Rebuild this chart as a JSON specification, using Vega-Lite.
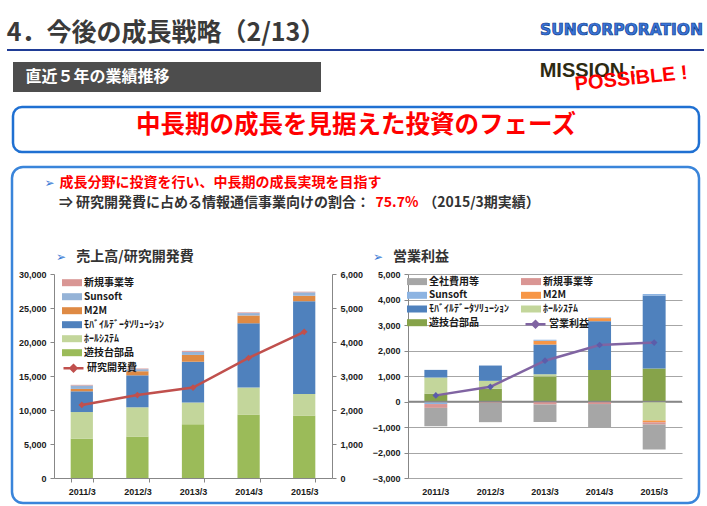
{
  "$schema": "https://vega.github.io/schema/vega-lite/v6.json",
  "padding": 0,
  "background": "#ffffff",
  "spacing": 0,
  "bounds": "flush",
  "data": {"values": [{}]},
  "config": {
    "view": {"stroke": null},
    "font": "Noto Sans CJK JP",
    "axis": {"labelFont": "Liberation Sans", "labelFontWeight": "bold", "labelFontSize": 9, "labelColor": "#1a1a1a", "domainColor": "#878787", "tickColor": "#878787", "tickSize": 4, "labelPadding": 4, "grid": false, "labelOverlap": false},
    "legend": {"labelFont": "Noto Sans CJK JP", "labelFontWeight": "bold", "labelFontSize": 10, "labelColor": "#1a1a1a", "padding": 0, "labelOffset": 7, "symbolSize": 100, "orient": "none"}
  },
  "datasets": {
    "sales": [
      {"year": "2011/3", "seg": "遊技台部品", "value": 5800, "ord": 1},
      {"year": "2011/3", "seg": "ﾎｰﾙｼｽﾃﾑ", "value": 3900, "ord": 2},
      {"year": "2011/3", "seg": "ﾓﾊﾞｲﾙﾃﾞｰﾀｿﾘｭｰｼｮﾝ", "value": 3050, "ord": 3},
      {"year": "2011/3", "seg": "M2M", "value": 350, "ord": 4},
      {"year": "2011/3", "seg": "Sunsoft", "value": 500, "ord": 5},
      {"year": "2011/3", "seg": "新規事業等", "value": 100, "ord": 6},
      {"year": "2012/3", "seg": "遊技台部品", "value": 6100, "ord": 1},
      {"year": "2012/3", "seg": "ﾎｰﾙｼｽﾃﾑ", "value": 4300, "ord": 2},
      {"year": "2012/3", "seg": "ﾓﾊﾞｲﾙﾃﾞｰﾀｿﾘｭｰｼｮﾝ", "value": 4700, "ord": 3},
      {"year": "2012/3", "seg": "M2M", "value": 600, "ord": 4},
      {"year": "2012/3", "seg": "Sunsoft", "value": 300, "ord": 5},
      {"year": "2012/3", "seg": "新規事業等", "value": 100, "ord": 6},
      {"year": "2013/3", "seg": "遊技台部品", "value": 7900, "ord": 1},
      {"year": "2013/3", "seg": "ﾎｰﾙｼｽﾃﾑ", "value": 3200, "ord": 2},
      {"year": "2013/3", "seg": "ﾓﾊﾞｲﾙﾃﾞｰﾀｿﾘｭｰｼｮﾝ", "value": 6000, "ord": 3},
      {"year": "2013/3", "seg": "M2M", "value": 1000, "ord": 4},
      {"year": "2013/3", "seg": "Sunsoft", "value": 450, "ord": 5},
      {"year": "2013/3", "seg": "新規事業等", "value": 150, "ord": 6},
      {"year": "2014/3", "seg": "遊技台部品", "value": 9350, "ord": 1},
      {"year": "2014/3", "seg": "ﾎｰﾙｼｽﾃﾑ", "value": 3950, "ord": 2},
      {"year": "2014/3", "seg": "ﾓﾊﾞｲﾙﾃﾞｰﾀｿﾘｭｰｼｮﾝ", "value": 9450, "ord": 3},
      {"year": "2014/3", "seg": "M2M", "value": 1150, "ord": 4},
      {"year": "2014/3", "seg": "Sunsoft", "value": 350, "ord": 5},
      {"year": "2014/3", "seg": "新規事業等", "value": 100, "ord": 6},
      {"year": "2015/3", "seg": "遊技台部品", "value": 9200, "ord": 1},
      {"year": "2015/3", "seg": "ﾎｰﾙｼｽﾃﾑ", "value": 3150, "ord": 2},
      {"year": "2015/3", "seg": "ﾓﾊﾞｲﾙﾃﾞｰﾀｿﾘｭｰｼｮﾝ", "value": 13650, "ord": 3},
      {"year": "2015/3", "seg": "M2M", "value": 800, "ord": 4},
      {"year": "2015/3", "seg": "Sunsoft", "value": 500, "ord": 5},
      {"year": "2015/3", "seg": "新規事業等", "value": 100, "ord": 6}
    ],
    "rd": [
      {"year": "2011/3", "value": 2150},
      {"year": "2012/3", "value": 2440},
      {"year": "2013/3", "value": 2660},
      {"year": "2014/3", "value": 3530},
      {"year": "2015/3", "value": 4300}
    ],
    "op": [
      {"year": "2011/3", "seg": "遊技台部品", "value": 310, "ord": 1},
      {"year": "2011/3", "seg": "ﾎｰﾙｼｽﾃﾑ", "value": 630, "ord": 2},
      {"year": "2011/3", "seg": "ﾓﾊﾞｲﾙﾃﾞｰﾀｿﾘｭｰｼｮﾝ", "value": 300, "ord": 3},
      {"year": "2011/3", "seg": "M2M", "value": -30, "ord": 4},
      {"year": "2011/3", "seg": "Sunsoft", "value": -70, "ord": 5},
      {"year": "2011/3", "seg": "新規事業等", "value": -150, "ord": 6},
      {"year": "2011/3", "seg": "全社費用等", "value": -720, "ord": 7},
      {"year": "2012/3", "seg": "遊技台部品", "value": 500, "ord": 1},
      {"year": "2012/3", "seg": "ﾎｰﾙｼｽﾃﾑ", "value": 310, "ord": 2},
      {"year": "2012/3", "seg": "ﾓﾊﾞｲﾙﾃﾞｰﾀｿﾘｭｰｼｮﾝ", "value": 600, "ord": 3},
      {"year": "2012/3", "seg": "新規事業等", "value": -50, "ord": 6},
      {"year": "2012/3", "seg": "全社費用等", "value": -760, "ord": 7},
      {"year": "2013/3", "seg": "遊技台部品", "value": 980, "ord": 1},
      {"year": "2013/3", "seg": "ﾎｰﾙｼｽﾃﾑ", "value": 90, "ord": 2},
      {"year": "2013/3", "seg": "ﾓﾊﾞｲﾙﾃﾞｰﾀｿﾘｭｰｼｮﾝ", "value": 1165, "ord": 3},
      {"year": "2013/3", "seg": "M2M", "value": 145, "ord": 4},
      {"year": "2013/3", "seg": "Sunsoft", "value": 40, "ord": 5},
      {"year": "2013/3", "seg": "新規事業等", "value": -120, "ord": 6},
      {"year": "2013/3", "seg": "全社費用等", "value": -680, "ord": 7},
      {"year": "2014/3", "seg": "遊技台部品", "value": 1240, "ord": 1},
      {"year": "2014/3", "seg": "ﾓﾊﾞｲﾙﾃﾞｰﾀｿﾘｭｰｼｮﾝ", "value": 1910, "ord": 3},
      {"year": "2014/3", "seg": "M2M", "value": 120, "ord": 4},
      {"year": "2014/3", "seg": "Sunsoft", "value": 25, "ord": 5},
      {"year": "2014/3", "seg": "新規事業等", "value": -100, "ord": 6},
      {"year": "2014/3", "seg": "全社費用等", "value": -930, "ord": 7},
      {"year": "2015/3", "seg": "遊技台部品", "value": 1290, "ord": 1},
      {"year": "2015/3", "seg": "ﾎｰﾙｼｽﾃﾑ", "value": -745, "ord": 2},
      {"year": "2015/3", "seg": "ﾓﾊﾞｲﾙﾃﾞｰﾀｿﾘｭｰｼｮﾝ", "value": 2865, "ord": 3},
      {"year": "2015/3", "seg": "M2M", "value": -65, "ord": 4},
      {"year": "2015/3", "seg": "Sunsoft", "value": 65, "ord": 5},
      {"year": "2015/3", "seg": "新規事業等", "value": -90, "ord": 6},
      {"year": "2015/3", "seg": "全社費用等", "value": -980, "ord": 7}
    ],
    "profit": [
      {"year": "2011/3", "value": 240},
      {"year": "2012/3", "value": 575},
      {"year": "2013/3", "value": 1600},
      {"year": "2014/3", "value": 2215},
      {"year": "2015/3", "value": 2310}
    ]
  },
  "vconcat": [
    {"hconcat": [
      {"width": 332, "height": 49, "mark": {"type": "text", "text": "4．今後の成長戦略（2/13）", "font": "Noto Sans CJK JP", "fontSize": 25, "fontWeight": "bold", "color": "#3a3a3a", "dy": 8.5}},
      {"width": 208, "height": 49, "mark": {"type": "text", "text": ""}},
      {"width": 163, "height": 49, "mark": {"type": "text", "text": "SUNCORPORATION", "font": "DejaVu Sans", "fontSize": 15.5, "fontWeight": "bold", "color": "#3B74D8", "stroke": "#0D3C8C", "strokeWidth": 0.7, "dy": 5}}
    ], "spacing": 0, "bounds": "flush"},
    {"width": 1, "height": 49, "mark": {"type": "text", "text": ""}},
    {"hconcat": [
      {"width": 7, "height": 2, "mark": {"type": "text", "text": ""}},
      {"width": 697, "height": 2, "view": {"fill": "#1F3C96"}, "mark": {"type": "text", "text": ""}}
    ], "spacing": 0, "bounds": "flush"},
    {"width": 1, "height": 13, "mark": {"type": "text", "text": ""}},
    {"hconcat": [
      {"width": 13, "height": 30, "mark": {"type": "text", "text": ""}},
      {"width": 169, "height": 30, "view": {"fill": "#4D4D4D"}, "mark": {"type": "text", "text": "直近５年の業績推移", "font": "Noto Sans CJK JP", "fontSize": 16, "fontWeight": "bold", "color": "#ffffff"}},
      {"width": 139, "height": 30, "view": {"fill": "#4D4D4D"}, "mark": {"type": "text", "text": ""}},
      {"width": 217, "height": 30, "mark": {"type": "text", "text": ""}},
      {"width": 162, "height": 30, "layer": [
        {"mark": {"type": "text", "text": "MISSION :", "font": "Liberation Sans", "fontSize": 20, "fontWeight": "bold", "color": "#2E2A12", "dx": -31, "dy": -6.5}},
        {"mark": {"type": "text", "text": "POSSIBLE !", "font": "Liberation Sans", "fontSize": 20, "fontWeight": "bold", "color": "#FF0000", "angle": -6, "dx": 12, "dy": 3}}
      ]}
    ], "spacing": 0, "bounds": "flush"},
    {"width": 1, "height": 45, "mark": {"type": "text", "text": ""}},
    {"hconcat": [
      {"width": 13, "height": 45, "mark": {"type": "text", "text": ""}},
      {"width": 686, "height": 45, "view": {"fill": "#ffffff", "stroke": "#1F70D2", "strokeWidth": 2.5, "cornerRadius": 9}, "mark": {"type": "text", "text": "中長期の成長を見据えた投資のフェーズ", "font": "Noto Sans CJK JP", "fontSize": 24.5, "fontWeight": "bold", "color": "#FF0000", "dy": -3.5}}
    ], "spacing": 0, "bounds": "flush"},
    {"width": 1, "height": 60, "mark": {"type": "text", "text": ""}},
    {"hconcat": [
      {"width": 12, "height": 336, "mark": {"type": "text", "text": ""}},
      {"width": 687, "height": 336, "view": {"fill": "#ffffff", "stroke": "#3A85DA", "strokeWidth": 2.5, "cornerRadius": 11}, "mark": {"type": "text", "text": ""}}
    ], "spacing": 0, "bounds": "flush"},
    {"width": 1, "height": 9, "mark": {"type": "text", "text": ""}},
    {"hconcat": [
      {"width": 45, "height": 14, "mark": {"type": "text", "text": ""}},
      {"width": 9, "height": 14, "mark": {"type": "text", "text": "➢", "font": "DejaVu Sans", "fontSize": 12, "color": "#3A7BD5"}},
      {"width": 5, "height": 14, "mark": {"type": "text", "text": ""}},
      {"width": 323, "height": 14, "mark": {"type": "text", "text": "成長分野に投資を行い、中長期の成長実現を目指す", "font": "Noto Sans CJK JP", "fontSize": 14, "fontWeight": "bold", "color": "#FF0000"}}
    ], "spacing": 0, "bounds": "flush"},
    {"width": 1, "height": 20, "mark": {"type": "text", "text": ""}},
    {"hconcat": [
      {"width": 58, "height": 14, "mark": {"type": "text", "text": ""}},
      {"width": 313, "height": 14, "mark": {"type": "text", "text": "⇒ 研究開発費に占める情報通信事業向けの割合：", "font": "Noto Sans CJK JP", "fontSize": 14, "fontWeight": "bold", "color": "#333333"}},
      {"width": 52, "height": 14, "mark": {"type": "text", "text": "75.7%", "font": "Noto Sans CJK JP", "fontSize": 14, "fontWeight": "bold", "color": "#FF0000"}},
      {"width": 117, "height": 14, "mark": {"type": "text", "text": "（2015/3期実績）", "font": "Noto Sans CJK JP", "fontSize": 14, "fontWeight": "bold", "color": "#333333"}}
    ], "spacing": 0, "bounds": "flush"},
    {"width": 1, "height": 54, "mark": {"type": "text", "text": ""}},
    {"hconcat": [
      {"width": 56, "height": 14, "mark": {"type": "text", "text": ""}},
      {"width": 10, "height": 14, "mark": {"type": "text", "text": "➢", "font": "DejaVu Sans", "fontSize": 12, "color": "#3A7BD5"}},
      {"width": 8, "height": 14, "mark": {"type": "text", "text": ""}},
      {"width": 122, "height": 14, "mark": {"type": "text", "text": "売上高/研究開発費", "font": "Noto Sans CJK JP", "fontSize": 14, "fontWeight": "bold", "color": "#333333"}},
      {"width": 177, "height": 14, "mark": {"type": "text", "text": ""}},
      {"width": 10, "height": 14, "mark": {"type": "text", "text": "➢", "font": "DejaVu Sans", "fontSize": 12, "color": "#3A7BD5"}},
      {"width": 9, "height": 14, "mark": {"type": "text", "text": ""}},
      {"width": 58, "height": 14, "mark": {"type": "text", "text": "営業利益", "font": "Noto Sans CJK JP", "fontSize": 14, "fontWeight": "bold", "color": "#333333"}}
    ], "spacing": 0, "bounds": "flush"},
    {"width": 1, "height": 24, "mark": {"type": "text", "text": ""}},
    {"hconcat": [
      {"width": 54, "height": 204, "mark": {"type": "text", "text": ""}},
      {
        "width": 278, "height": 204,
        "layer": [
          {
            "data": {"name": "sales"},
            "mark": {"type": "bar"},
            "encoding": {
              "x": {"field": "year", "type": "ordinal", "title": null, "scale": {"paddingInner": 0.6, "paddingOuter": 0.3}, "axis": {"labelAngle": 0, "tickBand": "extent", "labelPadding": 5, "labelOverlap": false}},
              "y": {"field": "value", "type": "quantitative", "title": null, "stack": "zero", "scale": {"domain": [0, 30000], "nice": false}, "axis": {"values": [0, 5000, 10000, 15000, 20000, 25000, 30000], "tickCount": 10, "format": ",.0f", "labelOverlap": false}},
              "color": {"field": "seg", "type": "nominal", "scale": {"domain": ["新規事業等", "Sunsoft", "M2M", "ﾓﾊﾞｲﾙﾃﾞｰﾀｿﾘｭｰｼｮﾝ", "ﾎｰﾙｼｽﾃﾑ", "遊技台部品"], "range": ["#D99694", "#95B3D7", "#DF8A44", "#4F81BD", "#C3D69B", "#9BBB59"]}, "legend": {"title": null, "legendX": 13, "legendY": 3.7, "symbolType": "M-2,-0.7H2V0.7H-2Z", "symbolStrokeWidth": 0, "rowPadding": 4}},
              "order": {"field": "ord", "type": "quantitative"}
            }
          },
          {
            "data": {"name": "rd"},
            "layer": [
              {
                "mark": {"type": "line", "strokeWidth": 2.5},
                "encoding": {
                  "x": {"field": "year", "type": "ordinal"},
                  "y": {"field": "value", "type": "quantitative", "title": null, "scale": {"domain": [0, 6000], "nice": false}, "axis": {"orient": "right", "values": [0, 1000, 2000, 3000, 4000, 5000, 6000], "tickCount": 10, "format": ",.0f", "labelOverlap": false}},
                  "color": {"datum": "研究開発費", "scale": {"range": ["#C0504D"]}, "legend": {"title": null, "legendX": 13, "legendY": 87.7, "symbolType": "M-2,0H2M-0.6,0L0,-0.6L0.6,0L0,0.6Z", "symbolStrokeWidth": 2.5}}
                }
              },
              {
                "mark": {"type": "point", "shape": "diamond", "filled": true, "size": 45, "color": "#C0504D", "opacity": 1},
                "encoding": {
                  "x": {"field": "year", "type": "ordinal"},
                  "y": {"field": "value", "type": "quantitative"}
                }
              }
            ]
          }
        ],
        "resolve": {"scale": {"y": "independent", "color": "independent"}}
      },
      {"width": 76, "height": 204, "mark": {"type": "text", "text": ""}},
      {
        "width": 274, "height": 204,
        "layer": [
          {
            "data": {"name": "op"},
            "mark": {"type": "bar"},
            "encoding": {
              "x": {"field": "year", "type": "ordinal", "title": null, "scale": {"paddingInner": 0.58, "paddingOuter": 0.3}, "axis": {"labelAngle": 0, "domain": false, "ticks": false, "labelPadding": 9, "labelOverlap": false}},
              "y": {"field": "value", "type": "quantitative", "title": null, "stack": "zero", "scale": {"domain": [-3000, 5000], "nice": false}, "axis": {"values": [-3000, -2000, -1000, 0, 1000, 2000, 3000, 4000, 5000], "tickCount": 10, "format": ",.0f", "grid": true, "gridColor": "#A6A6A6", "gridWidth": 1.2, "labelOverlap": false}},
              "color": {"field": "seg", "type": "nominal", "scale": {"domain": ["全社費用等", "新規事業等", "Sunsoft", "M2M", "ﾓﾊﾞｲﾙﾃﾞｰﾀｿﾘｭｰｼｮﾝ", "ﾎｰﾙｼｽﾃﾑ", "遊技台部品"], "range": ["#A6A6A6", "#DA9694", "#8DB4E2", "#F79646", "#4F81BD", "#C3D69B", "#86A34A"]}, "legend": {"title": null, "legendX": 4, "legendY": 2.6, "columns": 2, "direction": "horizontal", "columnPadding": 12, "rowPadding": 3.7, "symbolType": "M-2,-0.7H2V0.7H-2Z", "symbolStrokeWidth": 0}},
              "order": {"field": "ord", "type": "quantitative"}
            }
          },
          {
            "mark": {"type": "rule", "color": "#878787", "strokeWidth": 1.5},
            "encoding": {"y": {"datum": 0}}
          },
          {
            "data": {"name": "profit"},
            "mark": {"type": "line", "strokeWidth": 2.5},
            "encoding": {
              "x": {"field": "year", "type": "ordinal"},
              "y": {"field": "value", "type": "quantitative"},
              "color": {"datum": "営業利益", "scale": {"range": ["#8064A2"]}, "legend": {"title": null, "legendX": 121, "legendY": 43.7, "symbolType": "M-2,0H2M-0.6,0L0,-0.6L0.6,0L0,0.6Z", "symbolStrokeWidth": 2.5}}
            }
          },
          {
            "data": {"name": "profit"},
            "mark": {"type": "point", "shape": "diamond", "filled": true, "size": 45, "color": "#5B5DAA", "opacity": 1},
            "encoding": {
              "x": {"field": "year", "type": "ordinal"},
              "y": {"field": "value", "type": "quantitative"}
            }
          }
        ],
        "resolve": {"scale": {"color": "independent"}}
      }
    ], "spacing": 0, "bounds": "flush"}
  ]
}
